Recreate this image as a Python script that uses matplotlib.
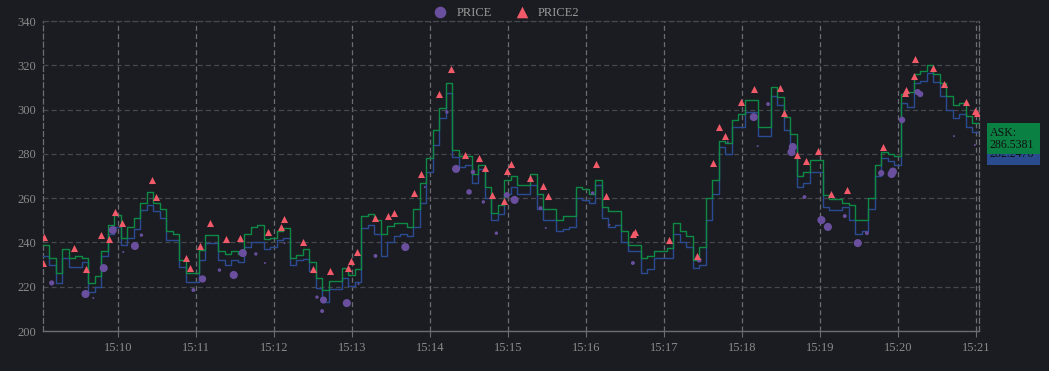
import numpy as np
import pandas as pd
import matplotlib
matplotlib.use("Agg")
import matplotlib.pyplot as plt
import matplotlib.dates as mdates
from matplotlib.patches import Rectangle

# ask / bid quotes, one every 5 s from 15:09:02
ask = [239, 233, 226, 237, 233, 234, 233, 221.7, 225, 236,
       248, 252.4, 242, 247, 251, 258, 263, 258, 255, 245,
       244, 232, 226, 226, 236.5, 243.4, 243.4, 236, 235, 236,
       235, 244, 247, 248, 241.5, 242, 245, 246.5, 233, 234.3,
       237, 231, 224, 218.5, 222.5, 222.5, 228.4, 225.5, 228, 252,
       253, 250, 244, 247.6, 249, 249, 247, 255, 267, 278,
       290.8, 300.5, 312, 281.7, 279, 279, 271, 275, 265, 253.3,
       257, 268, 270, 266, 266, 271, 262, 255, 255, 250,
       252, 252, 265, 264, 262, 268, 256, 254, 254, 245,
       239, 239, 233, 234, 236, 236, 237.5, 249, 245, 243,
       232, 238, 260, 268, 286, 285, 295.3, 298, 304.3, 304.3,
       292, 292, 310, 305.7, 296.6, 289, 270, 272, 277.2, 277.2,
       261.4, 259.5, 259.5, 258, 257, 250, 250, 260, 275, 281,
       280, 279, 307, 308, 316, 317.5, 320, 316, 312, 306,
       302, 303, 297, 294, 292]
bid = [234, 230, 221.6, 233, 229, 229, 231, 217.6, 220, 234,
       244, 247, 238.8, 242, 246, 254.6, 257, 254, 251, 241,
       241, 229, 222, 222, 232, 239.7, 239.7, 232, 230, 232,
       231, 238, 240, 240, 237, 238, 241, 242, 230, 232,
       232.5, 227, 219.4, 213, 219, 219, 224, 220.5, 222, 246.5,
       248, 244, 234, 240, 243, 244, 243, 247, 258, 272,
       284, 296, 307.5, 278.6, 274, 275, 267, 273, 260, 250,
       253, 262, 265, 262, 262, 266, 255, 250, 250, 245,
       246, 247, 260, 259, 258, 266, 251, 247, 248, 240,
       236, 236, 226, 228, 233, 233, 233, 244, 240, 238,
       228.5, 230, 250, 262, 283, 280, 292, 292, 299, 299,
       288, 288, 306, 302, 291, 283, 265, 267, 272, 272,
       256, 254.5, 254.5, 256, 250, 244, 245, 255, 270, 278,
       277, 275, 303, 301, 312, 313, 316.5, 312.5, 306, 300,
       296, 298, 292, 290, 288]

price_t = ["15:09:09", "15:09:35", "15:09:41", "15:09:49", "15:09:56", "15:10:04",
           "15:10:13", "15:10:18", "15:10:58", "15:11:05", "15:11:18", "15:11:29",
           "15:11:36", "15:11:46", "15:11:53", "15:12:08", "15:12:33", "15:12:38",
           "15:12:37", "15:12:56", "15:13:05", "15:13:18", "15:13:41", "15:13:56",
           "15:14:13", "15:14:20", "15:14:33", "15:14:30", "15:14:41", "15:14:51",
           "15:14:59", "15:15:05", "15:15:25", "15:15:29", "15:16:05", "15:16:18",
           "15:16:36", "15:17:27", "15:17:49", "15:18:09", "15:18:12", "15:18:20",
           "15:18:39", "15:18:38", "15:18:48", "15:19:01", "15:19:06", "15:19:19",
           "15:19:29", "15:19:36", "15:19:47", "15:19:55", "15:19:56", "15:20:03",
           "15:20:15", "15:20:17", "15:20:43", "15:20:59"]
price = [221.7, 216.7, 214.9, 228.4, 245.6, 235.7,
         238.4, 243.3, 218.5, 223.5, 227.5, 225.3,
         235.2, 234.8, 230.7, 239.7, 215.3, 214.0,
         209.0, 212.6, 221.2, 233.9, 237.9, 265.0,
         298.9, 273.2, 271.8, 262.8, 258.3, 244.2,
         261.4, 259.2, 255.5, 246.5, 262.3, 247.9,
         230.7, 232.0, 285.3, 296.6, 283.5, 302.5,
         283.1, 280.8, 260.5, 250.1, 247.0, 251.9,
         239.7, 244.2, 271.3, 270.9, 272.0, 295.3,
         307.9, 307.0, 288.0, 284.0]
price_vol = [14, 34, 2, 34, 34, 2,
             34, 6, 8, 28, 6, 34,
             34, 6, 2, 2, 6, 26,
             8, 34, 2, 8, 34, 2,
             6, 34, 10, 16, 6, 6,
             18, 34, 8, 2, 6, 2,
             8, 12, 2, 34, 2, 8,
             34, 34, 8, 34, 34, 8,
             34, 8, 20, 34, 34, 22,
             20, 20, 2, 2]

price2_t = ["15:09:02", "15:09:03", "15:09:26", "15:09:35", "15:09:47", "15:09:53",
            "15:09:58", "15:10:03", "15:10:26", "15:10:29", "15:10:52", "15:10:55",
            "15:11:03", "15:11:11", "15:11:23", "15:11:34", "15:11:55", "15:12:05",
            "15:12:08", "15:12:22", "15:12:30", "15:12:43", "15:12:57", "15:12:59",
            "15:13:04", "15:13:18", "15:13:28", "15:13:32", "15:13:48", "15:13:53",
            "15:14:07", "15:14:16", "15:14:27", "15:14:38", "15:14:42", "15:14:48",
            "15:14:57", "15:14:59", "15:15:02", "15:15:17", "15:15:27", "15:15:31",
            "15:16:08", "15:16:15", "15:16:36", "15:16:38", "15:17:04", "15:17:25",
            "15:17:38", "15:17:42", "15:17:47", "15:17:59", "15:18:09", "15:18:29",
            "15:18:32", "15:18:42", "15:18:49", "15:18:58", "15:19:08", "15:19:21",
            "15:19:48", "15:20:05", "15:20:06", "15:20:12", "15:20:13", "15:20:27",
            "15:20:35", "15:20:52", "15:20:59", "15:21:01"]
price2 = [230.7, 242.4, 237.5, 228.0, 243.3, 241.6,
          253.7, 248.8, 268.2, 260.5, 233.0, 228.4,
          238.4, 248.8, 241.6, 242.0, 244.7, 247.0,
          250.8, 240.2, 228.0, 227.0, 228.4, 231.6,
          235.7, 251.0, 252.0, 253.3, 262.3, 271.0,
          307.0, 318.3, 279.5, 278.1, 273.6, 261.4,
          258.7, 272.2, 275.4, 269.1, 265.5, 261.0,
          275.4, 261.0, 243.8, 244.7, 241.1, 233.9,
          275.9, 292.1, 288.1, 303.4, 309.3, 309.7,
          298.4, 279.5, 276.8, 281.3, 261.9, 263.7,
          283.1, 307.5, 308.8, 315.2, 322.8, 318.8,
          311.5, 303.4, 299.3, 298.4]

last_ask = "286.5381"
last_bid = "282.2476"

day = "2024-01-02 "
t = pd.date_range(day + "15:09:02", periods=len(ask), freq="5s")
pt = pd.to_datetime([day + s for s in price_t])
p2t = pd.to_datetime([day + s for s in price2_t])

bg = "#1a1c21"
green = "#0f8a45"
blue = "#2a4a92"
purple = "#6a4f9e"
red = "#f25a6a"
txt = "#8a8a8a"

plt.rcParams["font.family"] = ["Liberation Serif", "DejaVu Serif"]

fig = plt.figure(figsize=(10.49, 3.71), dpi=100, facecolor=bg)
ax = fig.add_axes([43 / 1049, 40 / 371, (979.5 - 43) / 1049, 310 / 371])
ax.set_facecolor(bg)

ax.step(t, bid, where="post", color=blue, lw=1.0, zorder=3)
ax.step(t, ask, where="post", color=green, lw=1.0, zorder=4)
ax.scatter(pt, price, s=price_vol, color=purple, zorder=5, linewidths=0, label="PRICE")
ax.scatter(p2t, price2, s=26, marker="^", color=red, zorder=6, linewidths=0, label="PRICE2")

ax.set_xlim(pd.Timestamp(day + "15:09:02.3"), pd.Timestamp(day + "15:21:02.6"))
ax.set_ylim(200, 340)
ax.set_yticks(np.arange(200, 341, 20))
ax.xaxis.set_major_locator(mdates.MinuteLocator())
ax.xaxis.set_major_formatter(mdates.DateFormatter("%H:%M"))

ax.grid(axis="x", color="#6a6d72", linestyle=(0, (4, 2.5)), lw=0.9)
ax.grid(axis="y", color="#45484d", linestyle=(0, (4, 2.5)), lw=0.9)
for side in ["left", "right", "top"]:
    ax.spines[side].set_color("#6a6d72")
    ax.spines[side].set_linestyle((0, (4, 2.5)))
    ax.spines[side].set_linewidth(0.9)
ax.spines["top"].set_color("#45484d")
ax.spines["bottom"].set_color("#6a6d72")
ax.spines["bottom"].set_linewidth(1.0)

ax.tick_params(axis="y", length=0, pad=5, labelcolor=txt, labelsize=9)
ax.tick_params(axis="x", length=4, color="#6a6d72", pad=4, labelcolor=txt, labelsize=9)

fig.legend(loc="center", bbox_to_anchor=(0.48, 0.966), ncol=2, frameon=False,
           fontsize=9, labelcolor="#9a9a9a", handletextpad=0.3, columnspacing=1.4,
           markerscale=1.0)
leg = fig.legends[0]
leg.legend_handles[0].set_sizes([70])
leg.legend_handles[1].set_sizes([70])

# price tag boxes at the right edge
W, H = 1049, 371
fig.add_artist(Rectangle((987 / W, 1 - 165 / H), 53 / W, 31 / H,
                         transform=fig.transFigure, facecolor="#2a4b8d", edgecolor="none", zorder=1))
fig.text(990 / W, 1 - 148 / H, "BID:\n" + last_bid, color="#111", fontsize=8.6,
         va="center", ha="left", linespacing=0.95, zorder=2)
fig.add_artist(Rectangle((987 / W, 1 - 154 / H), 53 / W, 31 / H,
                         transform=fig.transFigure, facecolor="#0b8043", edgecolor="none", zorder=3))
fig.text(990 / W, 1 - 139 / H, "ASK:\n" + last_ask, color="#111", fontsize=8.6,
         va="center", ha="left", linespacing=0.95, zorder=4)

fig.savefig("out.png", dpi=100, facecolor=bg)
